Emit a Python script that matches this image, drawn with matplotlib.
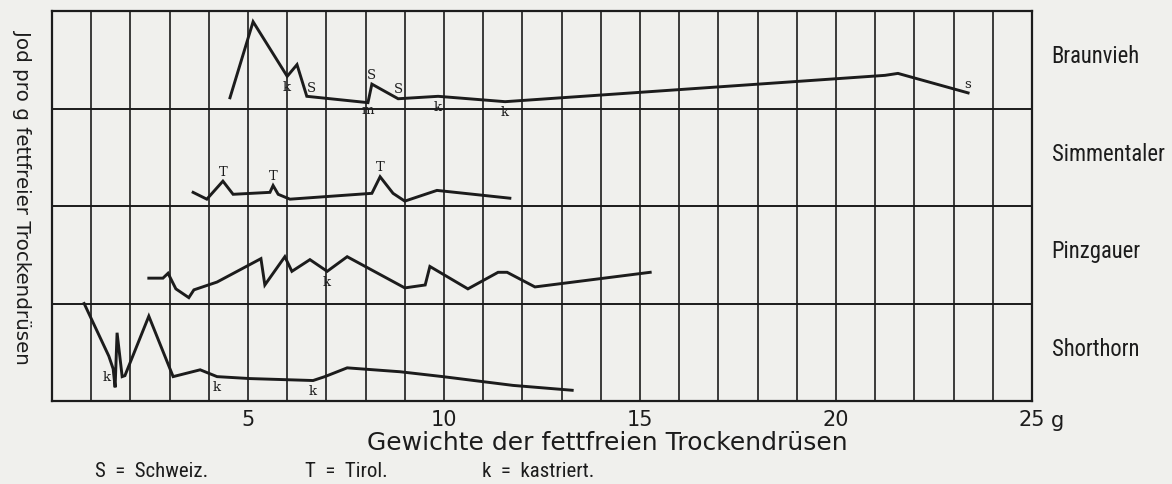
import numpy as np
import matplotlib
matplotlib.use('Agg')
import matplotlib.pyplot as plt
import matplotlib.transforms as mtransforms
from matplotlib import font_manager

# Werte (x = Gewicht in g, y = relative Jodmenge im Band)
breeds = ['Braunvieh', 'Simmentaler', 'Pinzgauer', 'Shorthorn']

braun_x = [4.54, 5.13, 6.0, 6.25, 6.5, 8.06, 8.16, 8.83, 9.85, 11.56, 21.25, 21.58, 23.37]
braun_y = [0.11, 0.89, 0.33, 0.45, 0.125, 0.06, 0.25, 0.10, 0.125, 0.07, 0.34, 0.36, 0.16]
braun_marks = {2: 'k', 4: 'S', 5: 'm', 6: 'S', 7: 'S', 8: 'k', 9: 'k', 12: 's'}

simm_x = [3.60, 3.95, 4.36, 4.62, 5.56, 5.64, 5.77, 6.07, 8.16, 8.37, 8.70, 9.0, 9.82, 11.68]
simm_y = [0.14, 0.07, 0.255, 0.12, 0.14, 0.21, 0.12, 0.07, 0.13, 0.30, 0.13, 0.05, 0.16, 0.08]
simm_marks = {2: 'T', 5: 'T', 9: 'T'}

pinz_x = [2.47, 2.83, 2.96, 3.16, 3.49, 3.62, 4.21, 5.33, 5.43, 5.94, 6.12, 6.58, 7.02,
          7.53, 9.0, 9.52, 9.64, 10.61, 11.38, 11.61, 12.32, 15.26]
pinz_y = [0.26, 0.26, 0.31, 0.15, 0.06, 0.14, 0.22, 0.46, 0.19, 0.48, 0.33, 0.45, 0.33,
          0.48, 0.16, 0.19, 0.38, 0.15, 0.32, 0.32, 0.17, 0.32]
pinz_marks = {12: 'k'}

short_x = [0.82, 1.45, 1.56, 1.61, 1.66, 1.79, 1.86, 2.47, 3.09, 3.78, 4.21, 5.05, 6.66,
           6.96, 7.53, 8.88, 9.97, 11.76, 13.27]
short_y = [1.0, 0.46, 0.33, 0.14, 0.70, 0.25, 0.26, 0.87, 0.25, 0.32, 0.25, 0.23, 0.21,
           0.25, 0.34, 0.30, 0.25, 0.16, 0.11]
short_marks = {2: 'k', 10: 'k', 12: 'k'}

tick_vals = [5, 10, 15, 20, 25]
tick_labels = ['5', '10', '15', '20', '25']

series = [(braun_x, braun_y, braun_marks), (simm_x, simm_y, simm_marks),
          (pinz_x, pinz_y, pinz_marks), (short_x, short_y, short_marks)]

# schmale Schrift, falls vorhanden
names = {f.name for f in font_manager.fontManager.ttflist}
narrow = next((n for n in ['Liberation Sans Narrow', 'Roboto Condensed',
                           'Open Sans Condensed', 'Nimbus Sans Narrow'] if n in names), None)
if narrow:
    nfont = dict(family=narrow)
    nsize = 16.3
else:
    nfont = dict(family='DejaVu Sans', stretch='condensed')
    nsize = 13.5

ink = '#1c1c1c'
paper = '#f0f0ed'

fig = plt.figure(figsize=(11.72, 4.85), dpi=100)
fig.patch.set_facecolor(paper)
ax = fig.add_axes([52 / 1172, 1 - 402 / 485, 980 / 1172, 390 / 485])
ax.set_facecolor(paper)
ax.set_xlim(0, 25)
ax.set_ylim(0, 4)

# Raster
ax.set_xticks(range(0, 26), minor=True)
ax.set_xticks(tick_vals, labels=tick_labels)
ax.set_yticks([1, 2, 3])
ax.set_yticklabels([])
ax.grid(which='both', axis='x', color=ink, lw=1.2)
ax.grid(which='major', axis='y', color=ink, lw=1.4)
ax.tick_params(which='both', length=0)
ax.tick_params(axis='x', pad=5.5, labelsize=15, labelcolor=ink)
for s in ax.spines.values():
    s.set_linewidth(1.6)
    s.set_color(ink)
ax.annotate('g', xy=(25, 0), xycoords='data', xytext=(26, -19), textcoords='offset pixels',
            fontsize=15, color=ink, ha='center', va='center')

offsets = {'k': (0, -10), 'm': (0, -7), 'S': (0, 10), 's': (0, 9), 'T': (0, 10)}
special = {(0, 4): (5, 9), (3, 2): (-6, -8)}

trans = mtransforms.blended_transform_factory(ax.transAxes, ax.transData)
for i, (xs, ys, marks) in enumerate(series):
    base = 3 - i
    yy = np.array(ys) + base
    ax.plot(xs, yy, color=ink, lw=2.1, solid_joinstyle='miter')
    for idx, letter in marks.items():
        off = special.get((i, idx), offsets[letter])
        ax.annotate(letter, xy=(xs[idx], yy[idx]), xytext=off, textcoords='offset pixels',
                    ha='center', va='center', fontsize=9.5, family='DejaVu Serif', color=ink)
    ax.text(1.02, base + 0.54, breeds[i], transform=trans, ha='left', va='center',
            fontsize=nsize, color=ink, **nfont)

fig.text(22 / 1172, 1 - 197 / 485, 'Jod pro g fettfreier Trockendrüsen', rotation=270,
         ha='center', va='center', fontsize=14.3, color=ink)
fig.text(607 / 1172, 1 - 443 / 485, 'Gewichte der fettfreien Trockendrüsen',
         ha='center', va='center', fontsize=18, color=ink)

fy = 1 - 472 / 485
fsize = 15
fig.text(95 / 1172, fy, 'S  =  Schweiz.', ha='left', va='center', fontsize=fsize, color=ink, **nfont)
fig.text(305 / 1172, fy, 'T  =  Tirol.', ha='left', va='center', fontsize=fsize, color=ink, **nfont)
fig.text(482 / 1172, fy, 'k  =  kastriert.', ha='left', va='center', fontsize=fsize, color=ink, **nfont)

fig.savefig('out.png', dpi=100, facecolor=paper)
